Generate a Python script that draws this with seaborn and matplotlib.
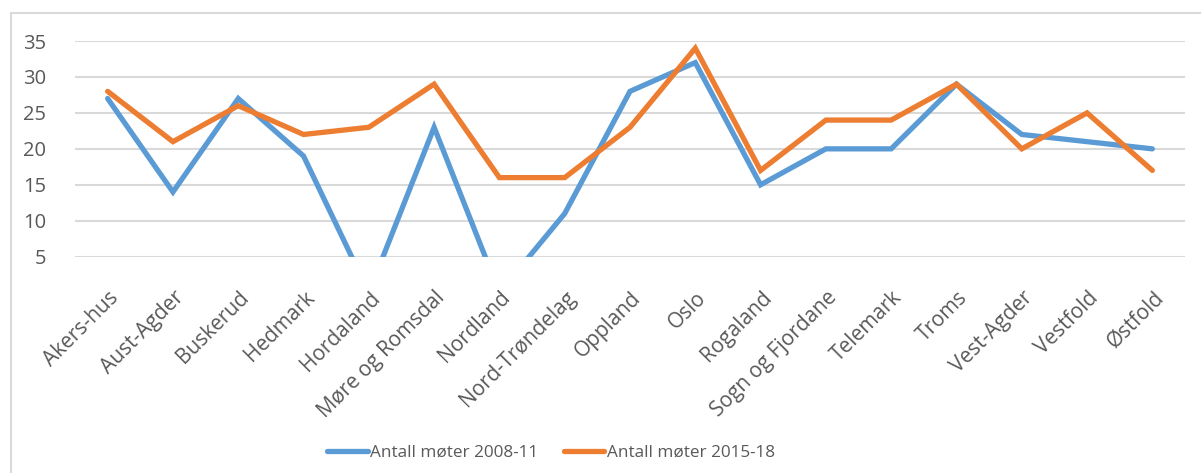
import matplotlib
matplotlib.use("Agg")
import matplotlib.pyplot as plt
import matplotlib.transforms as mtransforms
from matplotlib.lines import Line2D
import seaborn as sns
import pandas as pd

fylker = ["Akers-hus", "Aust-Agder", "Buskerud", "Hedmark", "Hordaland",
          "Møre og Romsdal", "Nordland", "Nord-Trøndelag", "Oppland", "Oslo",
          "Rogaland", "Sogn og Fjordane", "Telemark", "Troms", "Vest-Agder",
          "Vestfold", "Østfold"]
moter_2008_11 = [27, 14, 27, 19, 0, 23, 0, 11, 28, 32, 15, 20, 20, 29, 22, 21, 20]
moter_2015_18 = [28, 21, 26, 22, 23, 29, 16, 16, 23, 34, 17, 24, 24, 29, 20, 25, 17]
serie_navn = ["Antall møter 2008-11", "Antall møter 2015-18"]
yticks = [5, 10, 15, 20, 25, 30, 35]

colors = ["#5B9BD5", "#ED7D31"]
text_color = "#595959"

sns.set_theme(style="white")
plt.rcParams['font.family'] = ['Open Sans', 'DejaVu Sans']

df = pd.DataFrame({
    "fylke": fylker * 2,
    "antall": moter_2008_11 + moter_2015_18,
    "serie": [serie_navn[0]] * len(fylker) + [serie_navn[1]] * len(fylker),
})

fig = plt.figure(figsize=(12.01, 4.73), dpi=100)
W, H = 1201, 473
ax = fig.add_axes([75 / W, 1 - 256.7 / H, 1110 / W, 215.7 / H])

sns.lineplot(data=df, x="fylke", y="antall", hue="serie", palette=colors,
             linewidth=3.8, ax=ax, legend=False, sort=False,
             solid_capstyle="round", solid_joinstyle="miter")

ax.set_xlim(-0.5, len(fylker) - 0.5)
ax.set_ylim(5, 35)
ax.set_yticks(yticks)
ax.set_yticklabels([str(v) for v in yticks], color=text_color, fontsize=14.5)
ax.tick_params(axis="y", length=0, pad=21)
ax.grid(axis="y", color="#D9D9D9", linewidth=1.5)
ax.set_axisbelow(True)
for s in ax.spines.values():
    s.set_visible(False)
ax.set_xlabel("")
ax.set_ylabel("")

ax.set_xticks(range(len(fylker)))
ax.set_xticklabels(fylker, rotation=45, ha="right", va="center",
                   rotation_mode="anchor", color=text_color, fontsize=15)
ax.tick_params(axis="x", length=0, pad=0)
offset = mtransforms.ScaledTranslation(8 / 100, -38 / 100, fig.dpi_scale_trans)
for lbl in ax.get_xticklabels():
    lbl.set_transform(lbl.get_transform() + offset)

handles = [Line2D([], [], color=c, linewidth=3.8, solid_capstyle="round") for c in colors]
leg = fig.legend(handles, serie_navn, loc="center", bbox_to_anchor=(551 / W, 1 - 453 / H),
                 ncol=2, frameon=False, fontsize=12.3, handlelength=2.35,
                 handletextpad=0.15, columnspacing=1.5, labelcolor=text_color)

# chart border (left and top edges visible)
fig.add_artist(Line2D([10.5 / W, 10.5 / W], [0, 1 - 13 / H], transform=fig.transFigure,
                      color="#D9D9D9", linewidth=1.5))
fig.add_artist(Line2D([10.5 / W, 1], [1 - 13 / H, 1 - 13 / H], transform=fig.transFigure,
                      color="#D9D9D9", linewidth=1.5))

fig.savefig("out.png", dpi=100)
